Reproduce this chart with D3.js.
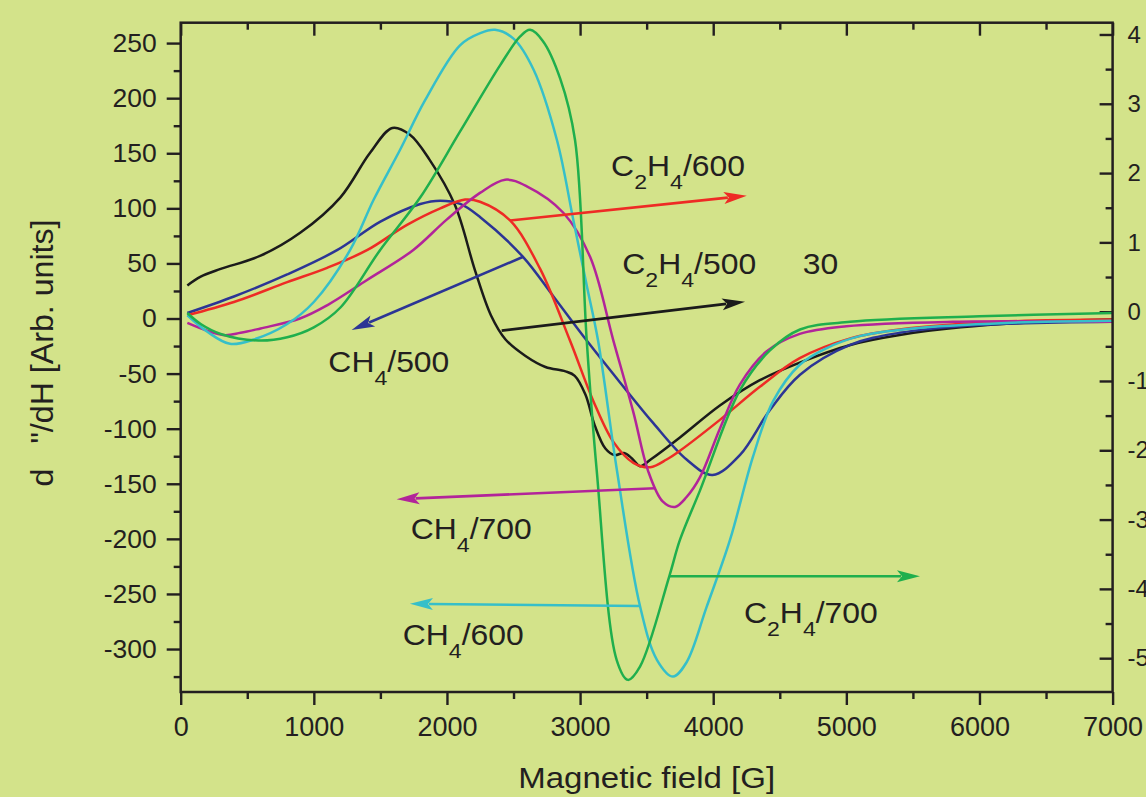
<!DOCTYPE html>
<html><head><meta charset="utf-8">
<script src="https://cdn.jsdelivr.net/npm/d3@7"></script>
<style>html,body{margin:0;padding:0;background:#d3e38a;} svg{display:block;}</style>
</head><body><svg id="c" width="1146" height="797"></svg>
<script>
// ---------- data (field in G, signal in arb. units) ----------
const xTicks = [0,1000,2000,3000,4000,5000,6000,7000];
const yTicks = [-300,-250,-200,-150,-100,-50,0,50,100,150,200,250];
const rightTicks = [4,3,2,1,0,-1,-2,-3,-4,-5];

const c2h4_500 = [[50,30],[150,38],[300,45],[600,57],[900,78],[1200,110],[1420,150],[1590,173],[1720,167],[1870,144],[2060,103],[2210,44],[2330,3],[2440,-19],[2590,-34],[2740,-44],[2890,-48],[2960,-52],[3040,-69],[3110,-97],[3190,-118],[3260,-124],[3330,-122],[3390,-127],[3450,-134],[3530,-128],[3750,-108],[4050,-79],[4350,-56],[4650,-40],[5030,-24],[5400,-15],[5860,-8],[6460,-3],[7000,-1]];
const ch4_500 = [[50,5],[400,20],[800,40],[1174,62],[1500,88],[1800,104],[1950,107],[2100,104],[2250,92],[2571,56],[2800,20],[3050,-20],[3300,-58],[3550,-95],[3800,-128],[3995,-142],[4200,-124],[4426,-83],[4652,-51],[5028,-24],[5400,-13],[6000,-6],[7000,-3]];
const c2h4_600 = [[50,3],[400,15],[800,33],[1100,46],[1399,62],[1700,85],[1950,100],[2136,108],[2248,106],[2474,89],[2700,45],[2924,-20],[3100,-75],[3250,-112],[3400,-131],[3527,-135],[3650,-128],[3750,-120],[4050,-92],[4350,-62],[4650,-36],[5030,-18],[5400,-10],[6150,-3],[7000,-1]];
const ch4_700 = [[50,-4],[318,-15],[450,-13],[600,-9],[896,0],[1100,12],[1400,35],[1745,62],[2000,90],[2248,114],[2437,126],[2600,120],[2874,96],[3075,56],[3250,-20],[3400,-85],[3510,-138],[3620,-166],[3713,-171],[3800,-162],[3901,-144],[4050,-100],[4200,-60],[4400,-30],[4650,-14],[5000,-7],[5800,-3],[7000,-3]];
const ch4_600 = [[50,3],[200,-12],[370,-23],[550,-19],[800,-5],[1000,15],[1272,62],[1450,108],[1647,153],[1835,198],[2098,248],[2250,259],[2361,262],[2500,254],[2650,226],[2826,162],[2950,89],[3050,30],[3135,-20],[3277,-138],[3450,-261],[3578,-310],[3698,-325],[3800,-312],[3950,-262],[4126,-201],[4300,-125],[4450,-75],[4650,-42],[4850,-27],[5100,-16],[5500,-9],[6200,-4],[7000,-2]];
const c2h4_700 = [[50,5],[150,-5],[300,-14],[583,-20],[800,-17],[1000,-8],[1200,10],[1497,62],[1800,110],[2100,170],[2400,230],[2550,256],[2624,262],[2720,252],[2850,218],[2962,162],[3050,-20],[3125,-138],[3275,-310],[3360,-328],[3450,-316],[3670,-234],[3750,-201],[3901,-156],[4201,-65],[4426,-29],[4652,-10],[5028,-3],[6000,2],[7000,5]];

const seriesData = [c2h4_500, ch4_500, c2h4_600, ch4_700, ch4_600, c2h4_700];
const seriesColor = ["#1b1b1b","#2c3595","#ee2b25","#b2249a","#36bfc9","#1faf4d"];

// annotations (data units)
const labelText = ["C2H4/600","C2H4/500","30","CH4/500","CH4/700","CH4/600","C2H4/700"];
const labelX = [3233,3317,4672,1109,1728,1668,4231];
const labelY = [129.6,40.4,40.4,-48.3,-200.5,-296.4,-276.2];
const arrowFrom = [[2474,89],[2411,-11],[2573,56],[3563,-154],[3450,-261],[3670,-234]];
const arrowTo   = [[4252,111.5],[4239,15.3],[1284,-10.4],[1622,-164],[1722,-259],[5553,-234]];
const arrowColor = ["#ee2b25","#1b1b1b","#2c3595","#b2249a","#36bfc9","#1faf4d"];

// ---------- drawing ----------
const svg = d3.select("#c");
const FONT = "'Liberation Sans', Arial, Helvetica, sans-serif";
const INK = "#231f20";
svg.append("rect").attr("width",1146).attr("height",797).attr("fill","#d3e38a");

const L = 180.7, R = 1112.6, T = 22.7, B = 692;
const x = d3.scaleLinear().domain([0,7000]).range([L,R]);
const y = d3.scaleLinear().domain([-339,268.5]).range([B,T]);
const yR = d3.scaleLinear().domain([-5.488,4.17]).range([B,T]);

function styleAxis(g, fs){
  g.select(".domain").remove();
  g.selectAll(".tick line").attr("stroke",INK).attr("stroke-width",2.4);
  g.selectAll(".tick text").attr("fill",INK).attr("font-family",FONT).attr("font-size",fs);
}
const minorX = d3.range(500,7000,1000);
const minorY = d3.range(-325,260,50);
const minorR = d3.range(-4.5,4.1,1);

// bottom
svg.append("g").attr("transform",`translate(0,${B})`)
  .call(d3.axisBottom(x).tickValues(xTicks).tickSize(13).tickPadding(12).tickFormat(d=>String(d)))
  .call(g=>styleAxis(g,27));
svg.append("g").attr("transform",`translate(0,${B})`)
  .call(d3.axisBottom(x).tickValues(minorX).tickSize(7).tickFormat(""))
  .call(g=>styleAxis(g,27));
// top (inward)
svg.append("g").attr("transform",`translate(0,${T})`)
  .call(d3.axisTop(x).tickValues(xTicks).tickSize(-13).tickFormat(""))
  .call(g=>styleAxis(g,27));
svg.append("g").attr("transform",`translate(0,${T})`)
  .call(d3.axisTop(x).tickValues(minorX).tickSize(-7).tickFormat(""))
  .call(g=>styleAxis(g,27));
// left
svg.append("g").attr("transform",`translate(${L},0)`)
  .call(d3.axisLeft(y).tickValues(yTicks).tickSize(14).tickPadding(10).tickFormat(d=>String(d)))
  .call(g=>styleAxis(g,26.5));
svg.append("g").attr("transform",`translate(${L},0)`)
  .call(d3.axisLeft(y).tickValues(minorY).tickSize(7).tickFormat(""))
  .call(g=>styleAxis(g,26.5));
// right (inward ticks, labels outside)
svg.append("g").attr("transform",`translate(${R},0)`)
  .call(d3.axisRight(yR).tickValues(rightTicks).tickSize(-13).tickPadding(15).tickFormat(d=>String(d)))
  .call(g=>styleAxis(g,24));
svg.append("g").attr("transform",`translate(${R},0)`)
  .call(d3.axisRight(yR).tickValues(minorR).tickSize(-7).tickFormat(""))
  .call(g=>styleAxis(g,24));

// curves
const line = d3.line().x(d=>x(d[0])).y(d=>y(d[1])).curve(d3.curveCatmullRom.alpha(0.5));
svg.append("clipPath").attr("id","pc").append("rect")
  .attr("x",L).attr("y",T).attr("width",R-L).attr("height",B-T);
const plot = svg.append("g").attr("clip-path","url(#pc)");
seriesData.forEach((s,i)=>{
  plot.append("path").attr("d",line(s)).attr("fill","none")
    .attr("stroke",seriesColor[i]).attr("stroke-width",2.5).attr("stroke-linejoin","round");
});

// frame
svg.append("rect").attr("x",L).attr("y",T).attr("width",R-L).attr("height",B-T)
  .attr("fill","none").attr("stroke",INK).attr("stroke-width",2.5);

// arrows
arrowFrom.forEach((f,i)=>{
  const x0=x(f[0]), y0=y(f[1]), x1=x(arrowTo[i][0]), y1=y(arrowTo[i][1]);
  const ang=Math.atan2(y1-y0,x1-x0), hl=23, hw=6;
  const bx=x1-hl*Math.cos(ang), by=y1-hl*Math.sin(ang);
  svg.append("line").attr("x1",x0).attr("y1",y0).attr("x2",bx+4*Math.cos(ang)).attr("y2",by+4*Math.sin(ang))
    .attr("stroke",arrowColor[i]).attr("stroke-width",2.6);
  const px=-Math.sin(ang), py=Math.cos(ang);
  svg.append("path").attr("d",`M${x1},${y1}L${bx+hw*px},${by+hw*py}L${bx+5*Math.cos(ang)},${by+5*Math.sin(ang)}L${bx-hw*px},${by-hw*py}Z`)
    .attr("fill",arrowColor[i]);
});

// labels with chemical subscripts
labelText.forEach((t,i)=>{
  const g = svg.append("g").attr("transform",`translate(${x(labelX[i])},${y(labelY[i])}) scale(1.1,1)`);
  const txt = g.append("text").attr("font-family",FONT).attr("font-size",29).attr("fill",INK);
  let sub=false;
  for(let k=0;k<t.length;k++){
    const ch=t[k];
    const isSub = /[0-9]/.test(ch) && k>0 && /[A-Za-z]/.test(t[k-1]);
    if(isSub){
      txt.append("tspan").attr("font-size",21).attr("dy",13).text(ch);
      sub=true;
    } else {
      const ts = txt.append("tspan").text(ch);
      if(sub){ ts.attr("dy",-13); sub=false; }
    }
  }
});

// axis titles
svg.append("text").attr("x",(L+R)/2).attr("y",788).attr("text-anchor","middle")
  .attr("font-family",FONT).attr("font-size",30).attr("fill",INK)
  .attr("textLength",257).attr("lengthAdjust","spacingAndGlyphs")
  .text("Magnetic field [G]");
svg.append("text").attr("transform","translate(53,353) rotate(-90)").attr("text-anchor","middle")
  .attr("font-family",FONT).attr("font-size",31).attr("fill",INK)
  .attr("textLength",267).attr("lengthAdjust","spacingAndGlyphs")
  .text("d \u2002\"/dH [Arb. units]");
</script></body></html>
